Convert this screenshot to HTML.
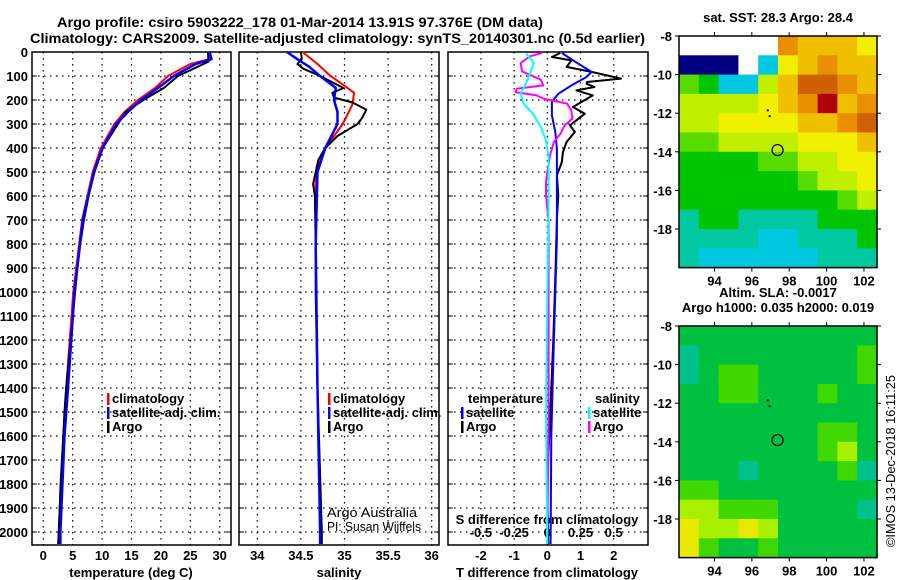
<!DOCTYPE html>
<html><head><meta charset="utf-8">
<style>
html,body{margin:0;padding:0;background:#fff;}
svg{display:block;font-family:"Liberation Sans",sans-serif;}
.b{font-weight:bold;font-size:13px;}
</style></head>
<body>
<svg id="chart" width="900" height="580" viewBox="0 0 900 580" xmlns="http://www.w3.org/2000/svg">
<rect width="900" height="580" fill="#fff"/>
<text x="57" y="27" font-size="14" font-weight="bold" textLength="486" lengthAdjust="spacingAndGlyphs">Argo profile: csiro 5903222_178 01-Mar-2014 13.91S 97.376E (DM data)</text>
<text x="30" y="43" font-size="14" font-weight="bold" textLength="615" lengthAdjust="spacingAndGlyphs">Climatology: CARS2009. Satellite-adjusted climatology: synTS_20140301.nc (0.5d earlier)</text>
<g id="panels"></g>
<g id="maps"></g>
<text transform="translate(895,547) rotate(-90)" font-size="13" textLength="172" lengthAdjust="spacingAndGlyphs">©IMOS 13-Dec-2018 16:11:25</text>
</svg>
<script>
// ---- data ----
const depthTicks = [0,100,200,300,400,500,600,700,800,900,1000,1100,1200,1300,1400,1500,1600,1700,1800,1900,2000];
const tempTicks = [0,5,10,15,20,25,30];
const salTicks = [34,34.5,35,35.5,36];
const tdiffTicks = [-2,-1,0,1,2];
const sdiffTicks = [-0.5,-0.25,0,0.25,0.5];
const sdiffTickLabels = ["-0.5","-0.25","0","0.25","0.5"];

const tArgoDepth = [0,40,100,150,200,250,300,400,500,600,700,800,900,1000,1400,1500,1600,1800,2000,2050];
const tArgo      = [28.0,28.1,22.9,20.5,17.0,14.0,12.7,10.1,8.7,7.7,6.9,6.3,5.8,5.4,3.9,3.6,3.4,2.95,2.65,2.6];
const tClimDepth = [0,30,50,100,150,200,250,300,400,500,700,1000,1400,1600,2000,2050];
const tClim      = [28.3,28.2,25.0,21.2,19.0,16.1,13.8,12.1,9.8,8.4,6.6,5.1,3.9,3.4,2.6,2.5];
const tSatDepth  = [0,30,50,100,150,200,250,300,400,500,700,1000,1400,1600,2000,2050];
const tSat       = [28.3,28.6,25.9,22.2,19.5,16.6,14.4,12.4,10.1,8.6,6.7,5.3,4.2,3.6,2.9,2.9];

const sArgoDepth = [0,30,50,70,100,130,150,170,190,210,240,270,300,350,400,450,500,550,600,800,1000,1400,2000,2050];
const sArgo      = [34.50,34.51,34.46,34.53,34.72,34.88,34.99,34.86,34.88,35.09,35.25,35.21,35.15,34.92,34.78,34.70,34.67,34.64,34.66,34.67,34.67,34.69,34.74,34.74];
const sClimDepth = [0,50,100,130,170,220,300,400,500,800,1400,2000,2050];
const sClim      = [34.52,34.69,34.84,34.96,35.11,35.09,34.98,34.78,34.67,34.67,34.69,34.73,34.74];
const sSatDepth  = [0,30,60,100,150,200,250,300,400,500,800,1400,2000,2050];
const sSat       = [34.34,34.46,34.59,34.72,34.90,34.88,34.92,34.92,34.78,34.69,34.67,34.69,34.72,34.72];

const dtArgoDepth = [4,21,35,62,83,111,125,132,146,160,181,229,257,306,333,375,417,458,514,597,694,900,1200,1500,1800,2050];
const dtArgo      = [0.39,0.14,0.73,0.58,1.33,2.22,1.2,1.18,1.42,0.88,1.37,0.77,1.13,0.68,0.83,0.58,0.47,0.44,0.29,0.33,0.29,0.25,0.18,0.09,-0.01,0.03];
const dtSatDepth  = [4,35,83,104,139,174,208,264,333,403,500,778,1200,1600,2050];
const dtSat       = [0.44,0.78,1.33,1.18,0.73,0.33,0.14,0.14,0.24,0.29,0.29,0.29,0.2,0.12,0.1];
const dsArgoDepth = [4,18,46,81,115,139,153,167,181,194,215,243,278,306,340,375,431,500,542,597,708,1000,1500,2050];
const dsArgo      = [-0.04,-0.13,-0.2,-0.19,-0.05,-0.03,-0.23,-0.24,-0.08,-0.03,0.15,0.18,0.19,0.13,0.1,0.05,0.02,0,-0.01,-0.01,0.01,0.01,0.01,0.0];
const dsSatDepth  = [6,47,89,131,172,214,256,311,367,436,644,1000,1500,2050];
const dsSat       = [-0.16,-0.1,-0.13,-0.16,-0.2,-0.18,-0.11,-0.05,-0.01,0.01,0.01,0.0,-0.01,0.0];

// map heatmap values (rows lat -8 -> -20, cols lon 92.1 -> 102.7)
const sstGrid = [
 [0,0,0,0,0,9,8,8,8,7],
 [1,1,1,0,2,7,8,9,8,8],
 [5,4,2,2,6,8,10,10,9,8],
 [6,6,6,6,7,8,9,11,8,9],
 [6,6,7,7,7,7,8,8,9,10],
 [5,5,6,6,6,6,7,7,7,8],
 [4,4,4,4,5,5,6,6,7,7],
 [4,4,4,4,4,4,5,6,6,7],
 [4,4,4,4,4,4,4,4,5,6],
 [3,4,4,3,3,3,3,4,4,4],
 [3,3,3,3,2,2,3,3,3,4],
 [3,2,2,2,2,2,2,3,3,3]];
const slaGrid = [
 [4,4,4,4,4,4,4,4,4,4],
 [3,4,4,4,4,4,4,4,4,5],
 [3,4,5,5,4,4,4,4,4,5],
 [4,4,5,5,4,4,4,5,4,4],
 [4,4,4,4,4,4,4,4,4,4],
 [4,4,4,4,4,4,4,5,5,4],
 [4,4,4,4,4,4,4,5,6,4],
 [4,4,4,3,4,4,4,4,5,3],
 [5,5,4,4,4,4,4,4,4,4],
 [6,6,5,5,5,4,4,4,4,3],
 [7,6,6,7,6,4,4,4,4,4],
 [7,5,4,4,5,4,4,4,4,4]];
const lonTicks = [94,96,98,100,102];
const latTicks = [-8,-10,-12,-14,-16,-18];
const floatLon = 97.376, floatLat = -13.91;

// ---- drawing ----
const NS="http://www.w3.org/2000/svg";
const panelsG=document.getElementById('panels');
const mapsG=document.getElementById('maps');
function el(tag,attrs,parent){const e=document.createElementNS(NS,tag);for(const k in attrs)e.setAttribute(k,attrs[k]);(parent||panelsG).appendChild(e);return e;}
function txt(s,attrs,parent){const e=el('text',attrs,parent);e.textContent=s;return e;}

const Y0=52, Y1=545;
const yD=d=>Y0+0.24*d;
const xT=v=>43.3+5.88*v;
const xS=v=>257.3+87.2*(v-34);
const xDT=v=>547.3+33.2*v;
const xDS=v=>547.3+132.8*v;

const panels=[{x0:32,x1:231,ticks:tempTicks,f:xT,name:'temperature-panel'},
  {x0:239,x1:439,ticks:salTicks,f:xS,name:'salinity-panel'},
  {x0:448,x1:648,ticks:tdiffTicks,f:xDT,name:'difference-panel'}];
panels.forEach(p=>{
  const g=el('g',{});
  
  
  p.ticks.forEach(t=>{const l=el('line',{x1:p.f(t),x2:p.f(t),y1:Y0,y2:Y1,stroke:'#000','stroke-width':1.2,'stroke-dasharray':'1.5 4.5'},g);
    });
  depthTicks.forEach(d=>{if(d===0)return;const l=el('line',{x1:p.x0,x2:p.x1,y1:yD(d),y2:yD(d),stroke:'#000','stroke-width':1.2,'stroke-dasharray':'1.5 4.5'},g);
    
    el('line',{x1:p.x0,x2:p.x0+5,y1:yD(d),y2:yD(d),stroke:'#000'},g);
    el('line',{x1:p.x1-5,x2:p.x1,y1:yD(d),y2:yD(d),stroke:'#000'},g);});
  const r=el('rect',{x:p.x0,y:Y0,width:p.x1-p.x0,height:Y1-Y0,fill:'none',stroke:'#000','stroke-width':1.5},g);
  
});
// depth labels
depthTicks.forEach(d=>{const t=txt(String(d),{x:28,y:yD(d)+5,'text-anchor':'end',class:'b'});
  });
// x tick labels
tempTicks.forEach(v=>{const t=txt(String(v),{x:xT(v),y:560,'text-anchor':'middle',class:'b'});});
salTicks.forEach(v=>{const t=txt(String(v),{x:xS(v),y:560,'text-anchor':'middle',class:'b'});});
tdiffTicks.forEach(v=>{const t=txt(String(v),{x:xDT(v),y:560,'text-anchor':'middle',class:'b'});});
sdiffTicks.forEach((v,i)=>{const t=txt(sdiffTickLabels[i],{x:xDS(v),y:537,'text-anchor':'middle',class:'b'});});
[['temperature (deg C)',131,'x-axis-title-temperature'],['salinity',339,'x-axis-title-salinity'],['T difference from climatology',547,'x-axis-title-tdiff']].forEach(a=>{
  const t=txt(a[0],{x:a[1],y:577,'text-anchor':'middle',class:'b'});});
{const t=txt('S difference from climatology',{x:547,y:524,'text-anchor':'middle',class:'b'});}

function series(depths,vals,fx,color,name,w){
  const pts=depths.map((d,i)=>fx(vals[i]).toFixed(1)+','+yD(d).toFixed(1)).join(' ');
  const p=el('polyline',{points:pts,fill:'none',stroke:color,'stroke-width':w||2,'stroke-linejoin':'round'});
  
  
}
series(tClimDepth,tClim,xT,'#ff0000','temperature-climatology-line');
series(tArgoDepth,tArgo,xT,'#000000','temperature-argo-line');
series(tSatDepth,tSat,xT,'#0000ff','temperature-satellite-line',2.5);
series(sClimDepth,sClim,xS,'#ff0000','salinity-climatology-line');
series(sArgoDepth,sArgo,xS,'#000000','salinity-argo-line');
series(sSatDepth,sSat,xS,'#0000ff','salinity-satellite-line',2.5);
series(dtArgoDepth,dtArgo,xDT,'#000000','tdiff-argo-line');
series(dtSatDepth,dtSat,xDT,'#0000ff','tdiff-satellite-line');
series(dsArgoDepth,dsArgo,xDS,'#ff00ff','sdiff-argo-line');
series(dsSatDepth,dsSat,xDS,'#00ffff','sdiff-satellite-line');

// legends
function leg(x,y,color,label,name){
  const g=el('g',{});
  
  
  el('rect',{x:x,y:y-10,width:2.5,height:12,fill:color},g);
  txt(label,{x:x+5,y:y,class:'b'},g);
}
leg(107,403,'#ff0000','climatology','legend-climatology');
leg(107,417,'#0000ff','satellite-adj. clim.','legend-satellite-adj');
leg(107,431,'#000000','Argo','legend-argo');
leg(328,403,'#ff0000','climatology','legend-climatology-sal');
leg(328,417,'#0000ff','satellite-adj. clim.','legend-satellite-adj-sal');
leg(328,431,'#000000','Argo','legend-argo-sal');
{const t=txt('temperature',{x:468,y:403,class:'b'});}
{const t=txt('salinity',{x:595,y:403,class:'b'});}
leg(461,417,'#0000ff','satellite','legend-tdiff-satellite');
leg(461,431,'#000000','Argo','legend-tdiff-argo');
leg(588,417,'#00ffff','satellite','legend-sdiff-satellite');
leg(588,431,'#ff00ff','Argo','legend-sdiff-argo');
{const t=txt('Argo Australia',{x:327,y:517,'font-size':13,textLength:90,lengthAdjust:'spacingAndGlyphs'});}
{const t=txt('PI: Susan Wijffels',{x:327,y:531,'font-size':13,textLength:94,lengthAdjust:'spacingAndGlyphs'});}

// maps
const palette=['#ffffff','#000080','#00c8e0','#00c8a0','#00c400','#58dc00','#c0f000','#f0f000','#f0c000','#e89000','#d06000','#b00000'];
const slaPalette=['#ffffff','#000080','#00c8e0','#00c08c','#00c040','#40d800','#a8f000','#e8e800'];
const MX0=679, MX1=877, LON0=92.1, LON1=102.7;
const mx=lon=>MX0+(lon-LON0)*(MX1-MX0)/(LON1-LON0);
function drawMap(top,grid,pal,name,title1,title2){
  const g=el('g',{},mapsG);
  
  
  const my=lat=>top+(-8-lat)*19.3;
  const rows=grid.length, cols=grid[0].length;
  const cw=(MX1-MX0)/cols, ch=(my(-20)-top)/rows;
  grid.forEach((row,r)=>row.forEach((v,c)=>{
    const cell=el('rect',{x:(MX0+c*cw).toFixed(1),y:(top+r*ch).toFixed(1),width:(cw+0.6).toFixed(1),height:(ch+0.6).toFixed(1),fill:pal[v]},g);
    
    
  }));
  el('rect',{x:MX0,y:top,width:MX1-MX0,height:my(-20)-top,fill:'none',stroke:'#000','stroke-width':1.5},g);
  lonTicks.forEach(l=>{el('line',{x1:mx(l),x2:mx(l),y1:top-4,y2:top,stroke:'#000'},g);
    el('line',{x1:mx(l),x2:mx(l),y1:my(-20),y2:my(-20)+4,stroke:'#000'},g);
    const t=txt(String(l),{x:mx(l),y:my(-20)+18,'text-anchor':'middle',class:'b'},g);});
  latTicks.forEach(l=>{el('line',{x1:MX0-4,x2:MX0,y1:my(l),y2:my(l),stroke:'#000'},g);
    el('line',{x1:MX1,x2:MX1+4,y1:my(l),y2:my(l),stroke:'#000'},g);
    const t=txt(String(l),{x:672,y:my(l)+5,'text-anchor':'end',class:'b'},g);});
  const c=el('circle',{cx:mx(floatLon),cy:my(floatLat),r:5.5,fill:'none',stroke:'#000','stroke-width':1.2},g);
  
  el('rect',{x:mx(96.8),y:my(-11.8),width:2,height:2,fill:'#000'},g);
  el('rect',{x:mx(96.9),y:my(-12.1),width:2,height:2,fill:'#000'},g);
  const t1=txt(title1,{x:778,y:title2?top-29:top-14,'text-anchor':'middle',class:'b'},g);
  if(title2){const t2=txt(title2,{x:778,y:top-14,'text-anchor':'middle',class:'b'},g);}
}
drawMap(36,sstGrid,palette,'sst-map','sat. SST: 28.3 Argo: 28.4');
drawMap(326,slaGrid,slaPalette,'sla-map','Altim. SLA: -0.0017','Argo h1000: 0.035 h2000: 0.019');
</script>
</body></html>
